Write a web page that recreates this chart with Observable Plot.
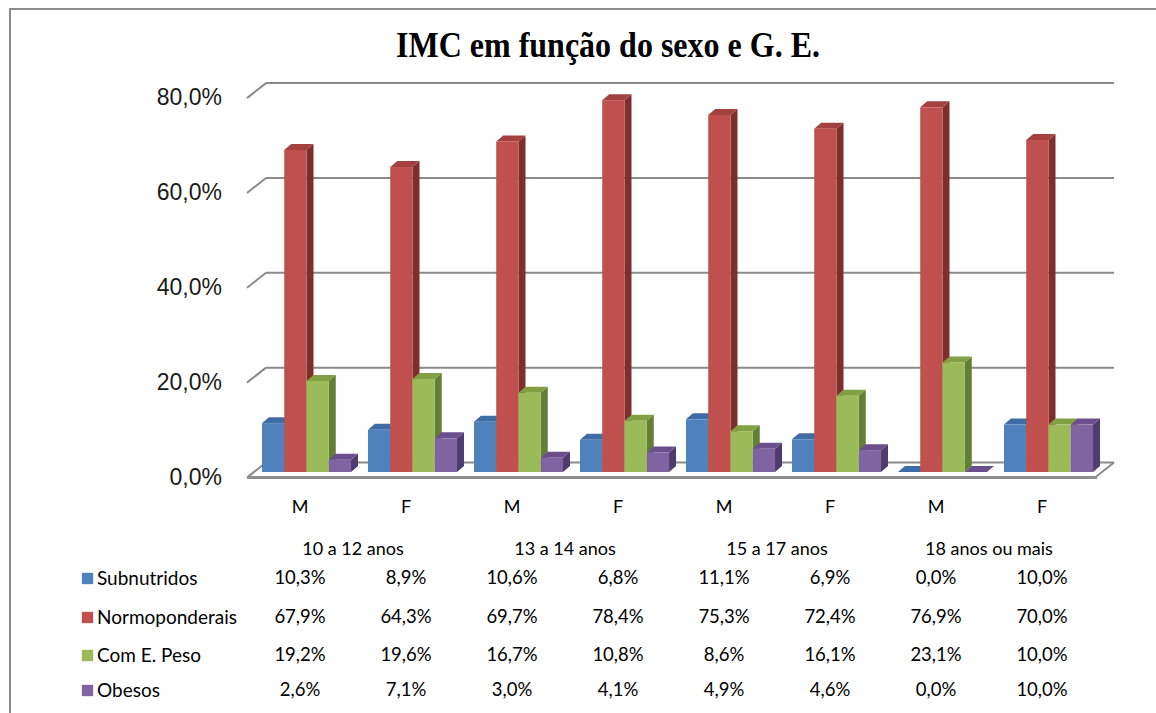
<!DOCTYPE html>
<html>
<head>
<meta charset="utf-8">
<script src="https://cdn.jsdelivr.net/npm/d3@7"></script>
<script src="https://cdn.jsdelivr.net/npm/@observablehq/plot@0.6"></script>
<style>
  html, body { margin: 0; padding: 0; background: #fff; overflow: hidden; }
  #wrap { position: relative; width: 1156px; height: 713px; }
  #frame { position: absolute; left: 9px; top: 8px; width: 1200px; height: 760px;
           border-left: 2px solid #8c8c8c; border-top: 2px solid #8c8c8c; }
  #title { position: absolute; left: 0; top: 29px; width: 1216px; text-align: center;
           font-family: "Liberation Serif", "Times New Roman", serif; font-weight: bold;
           font-size: 32px; line-height: 32px; color: #000; transform: scaleY(1.15); transform-origin: 50% 60%; }
  #chart { position: absolute; left: 0; top: 0; }
</style>
</head>
<body>
<div id="wrap">
  <div id="frame"></div>
  <div id="chart"></div>
  <div id="title">IMC em função do sexo e G. E.</div>
</div>
<script>
// ---- data ----
const ageGroups = ["10 a 12 anos", "13 a 14 anos", "15 a 17 anos", "18 anos ou mais"];
const sexes = ["M", "F", "M", "F", "M", "F", "M", "F"];
const seriesNames = ["Subnutridos", "Normoponderais", "Com E. Peso", "Obesos"];
const subnutridos    = [10.3, 8.9, 10.6, 6.8, 11.1, 6.9, 0.0, 10.0];
const normoponderais = [67.9, 64.3, 69.7, 78.4, 75.3, 72.4, 76.9, 70.0];
const comEPeso       = [19.2, 19.6, 16.7, 10.8, 8.6, 16.1, 23.1, 10.0];
const obesos         = [2.6, 7.1, 3.0, 4.1, 4.9, 4.6, 0.0, 10.0];
const yTicks = [0, 20, 40, 60, 80];

// ---- styles ----
const frontColors = ["#4f81bd", "#c0504d", "#9bbb59", "#8064a2"];
const topColors   = ["#3d6ca6", "#a3413e", "#80a043", "#6a4f8c"];
const sideColors  = ["#2f5585", "#7e2f2c", "#637e35", "#4f3c6e"];
const gridColor = "#8a8a8a";
const fmt = v => v.toFixed(1).replace(".", ",") + "%";

// ---- layout ----
const W = 1156, H = 713;
const mL = 253.5, mR = 54.5, mT = 92.6, baseY = 472, mB = H - baseY;
const pxX = (W - mL - mR) / 8;         // pixels per x unit
const pxY = (baseY - mT) / 80;         // pixels per percent
const dxD = 7 / pxX, dyD = 6 / pxY;    // bar depth
const dxF = -7 / pxX, dyF = -5 / pxY;  // front plane of walls/floor
const dxB = 12 / pxX, dyB = 10 / pxY;  // back wall plane
const barW = 0.21;

const values = [subnutridos, normoponderais, comEPeso, obesos];
const bars = [];
values.forEach((arr, j) => arr.forEach((v, i) => {
  const x1 = i + 0.5 - 2 * barW + j * barW;
  bars.push({j, i, v, x1, x2: x1 + barW, id: j + "-" + i});
}));
const sidePts = bars.flatMap(b => [
  {j: b.j, id: b.id, x: b.x2, y1: 0, y2: b.v},
  {j: b.j, id: b.id, x: b.x2 + dxD, y1: dyD, y2: b.v + dyD}
]);
const topPts = bars.flatMap(b => [
  {j: b.j, id: b.id, y: b.v, x1: b.x1, x2: b.x2},
  {j: b.j, id: b.id, y: b.v + dyD, x1: b.x1 + dxD, x2: b.x2 + dxD}
]);

// grid lines (back wall + left diagonals), floor
const gridLinks = [];
yTicks.forEach(v => {
  gridLinks.push({x1: dxB, y1: v + dyB, x2: 8 + dxB, y2: v + dyB, w: 2});
  gridLinks.push({x1: dxF, y1: v + dyF, x2: dxB, y2: v + dyB, w: 2});
});
gridLinks.push({x1: 8 + dxF, y1: dyF, x2: 8 + dxB, y2: dyB, w: 2});
const floorFront = [{x1: dxF, y1: dyF, x2: 8 + dxF + 0.02, y2: dyF}];

const barMarks = [];
[0, 1, 2, 3].forEach(j => {
  barMarks.push(Plot.areaY(sidePts.filter(d => d.j === j), {x: "x", y1: "y1", y2: "y2", z: "id", fill: sideColors[j], curve: "linear"}));
  barMarks.push(Plot.areaX(topPts.filter(d => d.j === j), {y: "y", x1: "x1", x2: "x2", z: "id", fill: topColors[j], curve: "linear"}));
  barMarks.push(Plot.rect(bars.filter(d => d.j === j), {x1: "x1", x2: "x2", y1: 0, y2: "v", fill: frontColors[j]}));
});

// table rows
const rowDy = [106, 145, 183, 218];
const tableCells = bars.map(b => ({x: b.i + 0.5, v: b.v, j: b.j}));
const sexLabels = sexes.map((s, i) => ({x: i + 0.5, s}));
const groupLabels = ageGroups.map((g, k) => ({x: 2 * k + 1, g}));

const textFont = "Lato, 'Open Sans', sans-serif";

const chart = Plot.plot({
  width: W, height: H,
  marginLeft: mL, marginRight: mR, marginTop: mT, marginBottom: mB,
  x: {type: "linear", domain: [0, 8], axis: null},
  y: {type: "linear", domain: [0, 80], axis: null},
  style: {background: "transparent", overflow: "visible"},
  marks: [
    Plot.link(gridLinks, {x1: "x1", y1: "y1", x2: "x2", y2: "y2", stroke: gridColor, strokeWidth: "w"}),
    Plot.link(floorFront, {x1: "x1", y1: "y1", x2: "x2", y2: "y2", stroke: "#8f8f8f", strokeWidth: 3}),
    ...barMarks,
    // y tick labels
    Plot.text(yTicks, {x: dxF, y: d => d, text: d => fmt(d), textAnchor: "end", dx: -25, dy: 5,
      fontSize: 23, fontFamily: "'Liberation Sans', Arial, sans-serif", fill: "#1a1a1a"}),
    // sex labels
    Plot.text(sexLabels, {x: "x", y: 0, text: "s", dx: -7, dy: 35, fontSize: 18, fontFamily: textFont, fill: "#000"}),
    // group labels
    Plot.text(groupLabels, {x: "x", y: 0, text: "g", dx: -7, dy: 77, fontSize: 18, fontFamily: textFont, fill: "#000"}),
    // table values
    ...[0, 1, 2, 3].map(j => Plot.text(tableCells.filter(d => d.j === j), {x: "x", y: 0, text: d => fmt(d.v),
      dx: -7, dy: rowDy[j], fontSize: 18.5, fontFamily: textFont, fill: "#000"})),
    // legend keys and names
    ...[0, 1, 2, 3].map(j => Plot.dot([seriesNames[j]], {frameAnchor: "left", y: 0, dx: -166.5, dy: rowDy[j],
      symbol: "square", r: 6.4, fill: frontColors[j], stroke: null})),
    ...[0, 1, 2, 3].map(j => Plot.text([seriesNames[j]], {frameAnchor: "left", y: 0, text: d => d, dx: -157, dy: rowDy[j],
      textAnchor: "start", fontSize: 19, fontFamily: textFont, fill: "#000"}))
  ]
});
document.getElementById("chart").appendChild(chart);
</script>
</body>
</html>
